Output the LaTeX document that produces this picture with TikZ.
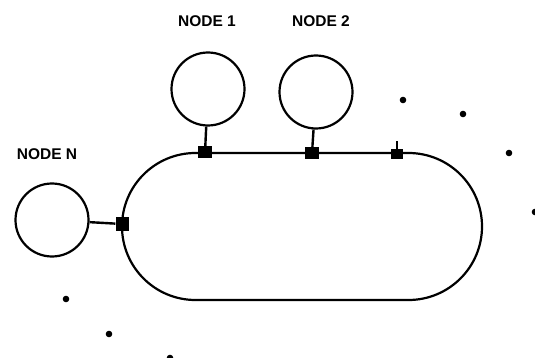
\documentclass[tikz,border=0pt]{standalone}
\usepackage{fontspec}
\setmainfont{Liberation Sans}

\begin{document}
\begin{tikzpicture}[x=1pt,y=-1pt,
	host/.style={draw,circle,line width=2.2pt,minimum size=73pt,inner sep=0pt},
	tap/.style={fill,minimum width=14pt,minimum height=12pt,inner sep=0pt},
	tag/.style={font=\bfseries\fontsize{15.5}{15.5}\selectfont,inner sep=0pt}]
\useasboundingbox (0,0) rectangle (535,358);

% the ring and the hosts hanging on it
\path (302,226.5) node[draw,line width=2.2pt,rounded corners=73.5pt,
			minimum width=360pt,minimum height=147pt] (ring) {}
		(208,89) node[host] (n1) {}
		(316,92) node[host] (n2) {}
		(52,220) node[host] (nN) {}
		(205,152.5) node[tap] (t1) {}
		(312,153) node[tap] (t2) {}
		(397,154) node[tap,minimum width=12pt,minimum height=10pt] (t3) {}
		(122,224) node[tap,minimum width=13pt,minimum height=14pt] (tN) {}
		(207,21) node[tag] (l1) {NODE 1}
		(321,21) node[tag] (l2) {NODE 2}
		(47,154) node[tag] (lN) {NODE N}
;

\draw[line width=2.4pt] (n1) -- (t1);
\draw[line width=2.4pt] (n2) -- (t2);
\draw[line width=2.4pt] (nN) -- (tN);
\draw[line width=2pt] (t3.north) -- ++(0,-8);

% dots for the hosts not drawn
\fill (403,100) circle (3.3pt);
\fill (463,114) circle (3.3pt);
\fill (509,153) circle (3.3pt);
\fill (535,212) circle (3.3pt);
\fill (66,299) circle (3.3pt);
\fill (109,334) circle (3.3pt);
\fill (170,358) circle (3.3pt);

\end{tikzpicture}
\end{document}
